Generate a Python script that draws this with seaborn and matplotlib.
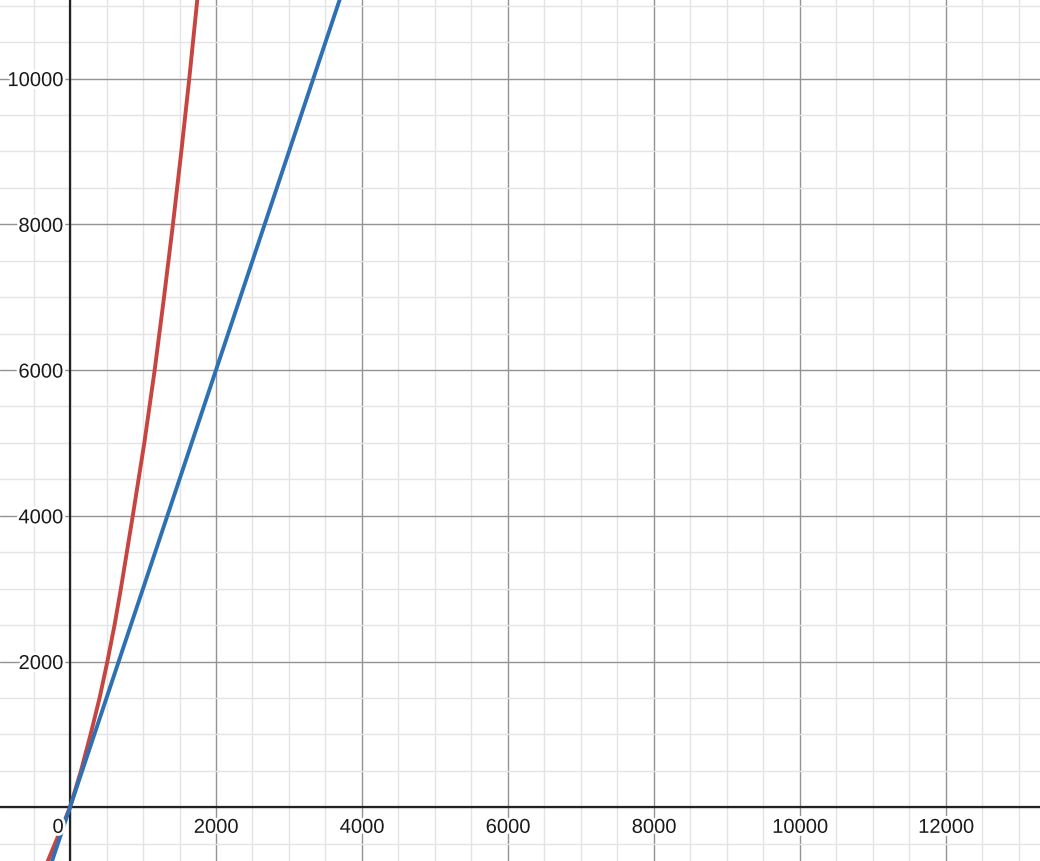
import matplotlib
matplotlib.use("Agg")
import matplotlib.pyplot as plt
import matplotlib.patheffects as pe
from matplotlib.ticker import MultipleLocator
import seaborn as sns
import pandas as pd

# Data
red_x = [-304, 0, 150, 282, 405, 512, 610, 697, 860, 1018, 1160, 1288, 1410, 1525, 1634, 1745]
red_y = [-737, 0, 500, 1000, 1500, 2000, 2500, 3000, 4000, 5000, 6000, 7000, 8000, 9000, 10000, 11096]
blue_x = [-250, 0, 2000, 3705]
blue_y = [-750, 0, 6000, 11115]
x_tick_values = [0, 2000, 4000, 6000, 8000, 10000, 12000]
y_tick_values = [2000, 4000, 6000, 8000, 10000]

sns.set_style("white")
plt.rcParams['font.family'] = ['Liberation Sans', 'DejaVu Sans']

fig = plt.figure(figsize=(10.4, 8.62), dpi=100)
ax = fig.add_axes([0, 0, 1, 1])

ax.set_xlim(-959, 13288)
ax.set_ylim(-737, 11092)

ax.xaxis.set_major_locator(MultipleLocator(2000))
ax.xaxis.set_minor_locator(MultipleLocator(500))
ax.yaxis.set_major_locator(MultipleLocator(2000))
ax.yaxis.set_minor_locator(MultipleLocator(500))
ax.grid(which='minor', color='#e4e4e4', lw=1.0, zorder=0)
ax.grid(which='major', color='#939393', lw=1.0, zorder=0.5)
ax.tick_params(which='both', length=0, labelbottom=False, labelleft=False)
for s in ax.spines.values():
    s.set_visible(False)

ax.axhline(0, color='#222222', lw=1.6, zorder=1)
ax.axvline(0, color='#222222', lw=1.6, zorder=1)

red_df = pd.DataFrame({'x': red_x, 'y': red_y})
blue_df = pd.DataFrame({'x': blue_x, 'y': blue_y})
sns.lineplot(data=red_df, x='x', y='y', sort=False, color='#c74440', lw=2.8, ax=ax, zorder=3)
sns.lineplot(data=blue_df, x='x', y='y', sort=False, color='#2d70b3', lw=2.8, ax=ax, zorder=4)
ax.set_xlabel('')
ax.set_ylabel('')

halo = [pe.withStroke(linewidth=4, foreground='white')]
for v in x_tick_values:
    dx = -8.6 if v == 0 else 0
    ax.annotate(str(v), xy=(v, 0), xytext=(dx, -13), textcoords='offset points',
                ha='center', va='center_baseline', fontsize=14.5, color='#1a1a1a',
                path_effects=halo, zorder=5)
for v in y_tick_values:
    ax.annotate(str(v), xy=(0, v), xytext=(-5, 0), textcoords='offset points',
                ha='right', va='center_baseline', fontsize=14.5, color='#1a1a1a',
                path_effects=halo, zorder=5)

fig.savefig('out.png', dpi=100)
